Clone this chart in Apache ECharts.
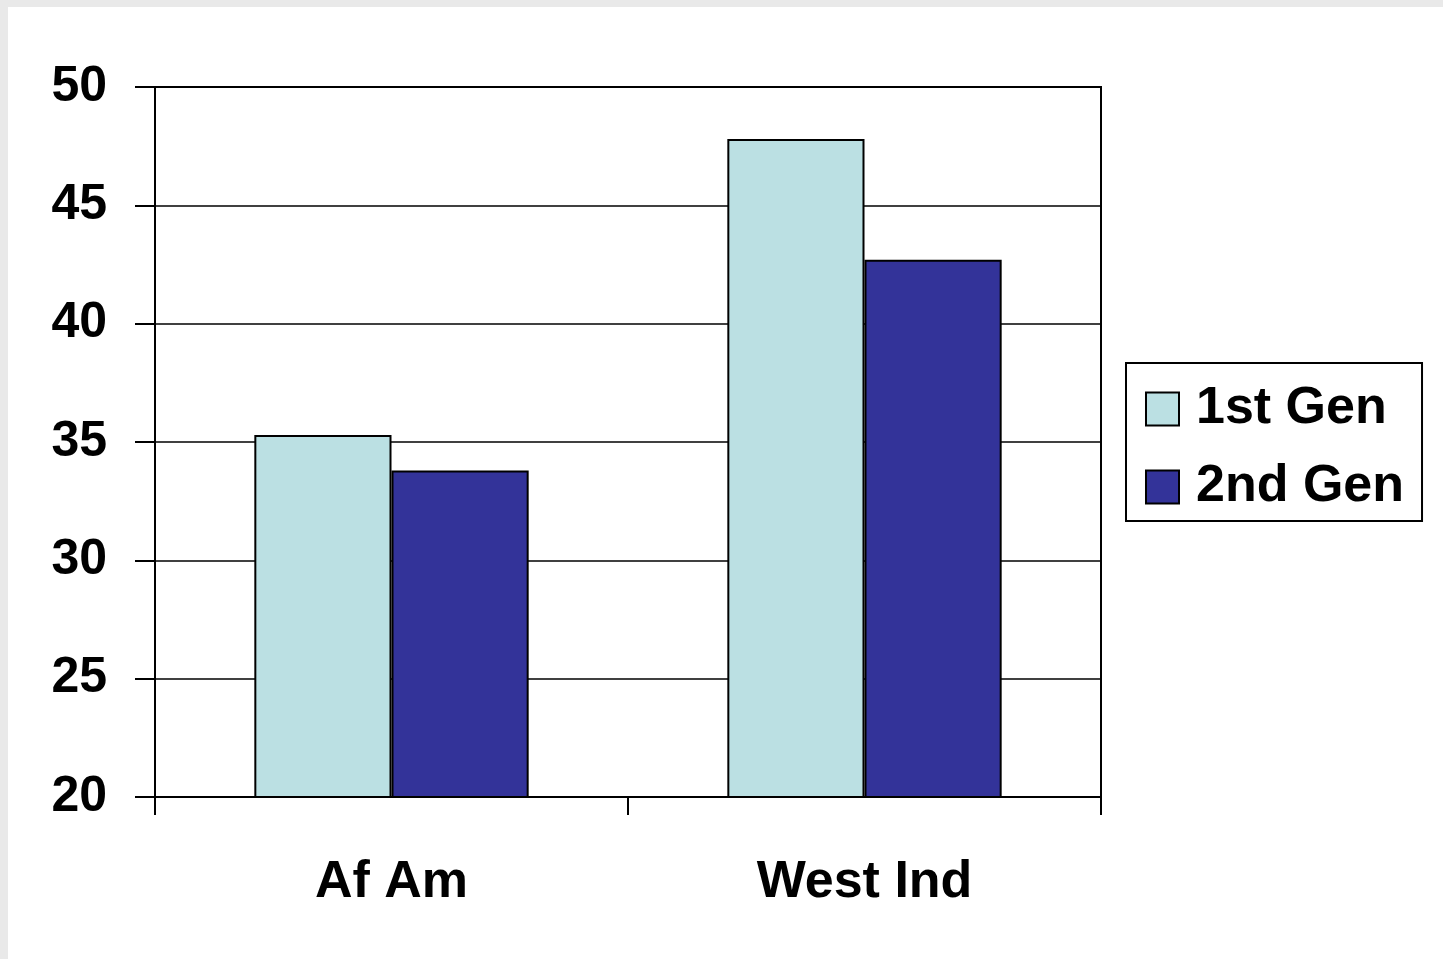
<!DOCTYPE html>
<html><head><meta charset="utf-8">
<script src="https://cdn.jsdelivr.net/npm/echarts@6/dist/echarts.min.js"></script>
<style>
html,body{margin:0;padding:0;background:#e9e9e9;width:1443px;height:959px;overflow:hidden}
#c{position:absolute;left:8px;top:7px;width:1435px;height:952px;background:#fff}
</style></head><body>
<div id="c"></div>
<script>
const categories = ['Af Am', 'West Ind'];
const seriesNames = ['1st Gen', '2nd Gen'];
const firstGen = [35.3, 47.8];
const secondGen = [33.8, 42.7];
const yTicks = {min: 20, max: 50, interval: 5};

const chart = echarts.init(document.getElementById('c'));
const font = '"Liberation Sans", Arial, sans-serif';
chart.setOption({
  animation: false,
  grid: {left: 147, right: 342, top: 80, bottom: 162, show: true, borderColor: '#000', borderWidth: 2, backgroundColor: 'transparent'},
  legend: {
    orient: 'vertical', left: 1118, top: 356,
    backgroundColor: '#fff', borderColor: '#000', borderWidth: 2,
    padding: [20, 18, 8, 19], itemGap: 26, itemWidth: 33, itemHeight: 33,
    icon: 'rect',
    textStyle: {fontFamily: font, fontWeight: 'bold', fontSize: 52, color: '#000', lineHeight: 52, padding: [0,0,0,12]},
    data: seriesNames
  },
  xAxis: {
    type: 'category', data: categories,
    axisLine: {lineStyle: {color: '#000', width: 2}},
    axisTick: {show: true, inside: false, length: 18, lineStyle: {color: '#000', width: 2}},
    axisLabel: {fontFamily: font, fontWeight: 'bold', fontSize: 52, color: '#000', margin: 60}
  },
  yAxis: {
    type: 'value', min: yTicks.min, max: yTicks.max, interval: yTicks.interval,
    axisLine: {show: true, lineStyle: {color: '#000', width: 2}},
    axisTick: {show: true, length: 20, lineStyle: {color: '#000', width: 2}},
    axisLabel: {fontFamily: font, fontWeight: 'bold', fontSize: 50, color: '#000', margin: 48},
    splitLine: {show: true, lineStyle: {color: '#000', width: 1.5}}
  },
  series: [
    {name: seriesNames[0], type: 'bar', data: firstGen, barWidth: '29%', barGap: '0%',
     itemStyle: {color: '#BBE0E3', borderColor: '#000', borderWidth: 2}},
    {name: seriesNames[1], type: 'bar', data: secondGen, barWidth: '29%', barGap: '0%',
     itemStyle: {color: '#333399', borderColor: '#000', borderWidth: 2}}
  ]
});
</script></body></html>
